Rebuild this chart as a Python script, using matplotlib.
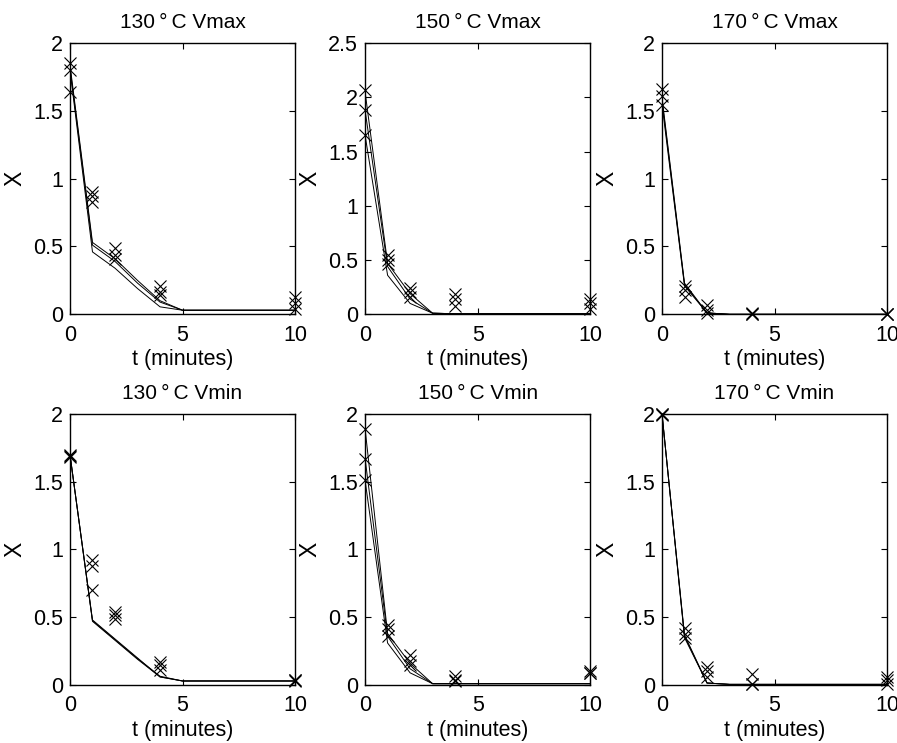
import matplotlib.pyplot as plt
from matplotlib.ticker import FormatStrFormatter

plt.rcParams['font.family'] = ['Liberation Sans', 'DejaVu Sans']

# sampling times (minutes)
t_meas = [0, 1, 2, 4, 10]
t_model = [0, 1, 2, 3, 4, 5, 10]

titles = ['130\u2009°\u2009C Vmax', '150\u2009°\u2009C Vmax', '170\u2009°\u2009C Vmax',
          '130\u2009°\u2009C Vmin', '150\u2009°\u2009C Vmin', '170\u2009°\u2009C Vmin']
ymax = [2, 2.5, 2, 2, 2, 2]

# measured X, three replicates per condition
meas_130_vmax = [[1.85, 0.90, 0.49, 0.21, 0.13],
                 [1.80, 0.87, 0.44, 0.165, 0.08],
                 [1.64, 0.83, 0.41, 0.14, 0.04]]
meas_150_vmax = [[2.07, 0.55, 0.24, 0.19, 0.14],
                 [1.88, 0.50, 0.21, 0.14, 0.10],
                 [1.65, 0.46, 0.16, 0.08, 0.05]]
meas_170_vmax = [[1.66, 0.21, 0.07, 0.01, 0.0],
                 [1.61, 0.18, 0.03, 0.005, 0.0],
                 [1.54, 0.13, 0.01, 0.0, 0.0]]
meas_130_vmin = [[1.70, 0.92, 0.54, 0.17, 0.04],
                 [1.69, 0.88, 0.52, 0.15, 0.04],
                 [1.68, 0.70, 0.49, 0.11, 0.03]]
meas_150_vmin = [[1.89, 0.44, 0.22, 0.07, 0.10],
                 [1.67, 0.41, 0.18, 0.04, 0.09],
                 [1.51, 0.36, 0.15, 0.03, 0.09]]
meas_170_vmin = [[2.0, 0.42, 0.13, 0.08, 0.06],
                 [2.0, 0.38, 0.10, 0.01, 0.04],
                 [1.99, 0.35, 0.06, 0.01, 0.01]]

# fitted model curves
model_130_vmax = [[1.84, 0.53, 0.41, 0.25, 0.10, 0.03, 0.03],
                  [1.82, 0.51, 0.39, 0.23, 0.09, 0.03, 0.03],
                  [1.80, 0.46, 0.34, 0.19, 0.055, 0.03, 0.03]]
model_150_vmax = [[2.05, 0.47, 0.19, 0.01, 0.005, 0.005, 0.005],
                  [1.88, 0.44, 0.14, 0.01, 0.005, 0.005, 0.005],
                  [1.65, 0.36, 0.10, 0.01, 0.005, 0.005, 0.005]]
model_170_vmax = [[1.60, 0.23, 0.01, 0.0, 0.0, 0.0, 0.0],
                  [1.58, 0.22, 0.01, 0.0, 0.0, 0.0, 0.0],
                  [1.55, 0.21, 0.01, 0.0, 0.0, 0.0, 0.0]]
model_130_vmin = [[1.70, 0.48, 0.34, 0.20, 0.06, 0.03, 0.03],
                  [1.70, 0.475, 0.335, 0.195, 0.065, 0.03, 0.03],
                  [1.70, 0.47, 0.33, 0.19, 0.06, 0.03, 0.03]]
model_150_vmin = [[1.89, 0.38, 0.16, 0.01, 0.01, 0.01, 0.01],
                  [1.67, 0.36, 0.12, 0.01, 0.01, 0.01, 0.01],
                  [1.51, 0.31, 0.09, 0.01, 0.01, 0.01, 0.01]]
model_170_vmin = [[2.0, 0.37, 0.015, 0.005, 0.005, 0.005, 0.005],
                  [2.0, 0.36, 0.015, 0.005, 0.005, 0.005, 0.005],
                  [2.0, 0.35, 0.015, 0.005, 0.005, 0.005, 0.005]]

meas = [meas_130_vmax, meas_150_vmax, meas_170_vmax,
        meas_130_vmin, meas_150_vmin, meas_170_vmin]
model = [model_130_vmax, model_150_vmax, model_170_vmax,
         model_130_vmin, model_150_vmin, model_170_vmin]

fig = plt.figure(figsize=(8.97, 7.43), dpi=100)

lefts = [0.078, 0.407, 0.738]
bottoms = [0.577, 0.078]
w, h = 0.251, 0.365

for i in range(6):
    ax = fig.add_axes([lefts[i % 3], bottoms[i // 3], w, h])
    for curve in model[i]:
        ax.plot(t_model, curve, color='black', lw=0.7)
    for rep in meas[i]:
        ax.plot(t_meas, rep, ls='none', marker='x', color='black',
                ms=8, mew=0.8, clip_on=False)
    ax.set_xlim(0, 10)
    ax.set_ylim(0, ymax[i])
    ax.set_xticks([0, 5, 10])
    yt = [k * 0.5 for k in range(int(ymax[i] / 0.5) + 1)]
    ax.set_yticks(yt)
    ax.yaxis.set_major_formatter(FormatStrFormatter('%g'))
    ax.tick_params(direction='in', top=True, right=True, length=4,
                   labelsize=15.5)
    ax.tick_params(axis='x', pad=7.5)
    ax.tick_params(axis='y', pad=5)
    ax.set_title(titles[i], fontsize=15, pad=11)
    ax.set_xlabel('t (minutes)', fontsize=15.5, labelpad=2.5)
    ax.set_ylabel('X', fontsize=16.5, labelpad=5)
    for s in ax.spines.values():
        s.set_linewidth(1.0)

plt.savefig('out.png', dpi=100)
